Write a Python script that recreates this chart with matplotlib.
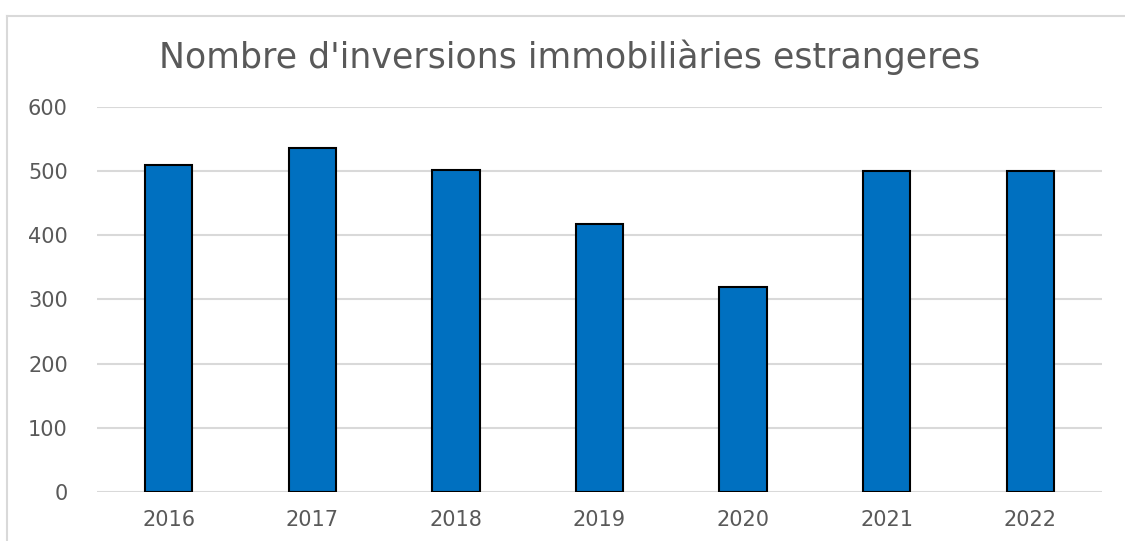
import matplotlib.pyplot as plt
from matplotlib.lines import Line2D

years = ['2016', '2017', '2018', '2019', '2020', '2021', '2022']
inversions = [510, 536, 502, 418, 320, 500, 500]
yticks = [0, 100, 200, 300, 400, 500, 600]

plt.rcParams['font.family'] = ['DejaVu Sans']

fig = plt.figure(figsize=(11.25, 5.41), dpi=100)
ax = fig.add_axes([0.0862, 0.0906, 0.8934, 0.7116])

ax.bar(years, inversions, width=0.33, color='#0070C0', edgecolor='black', linewidth=1.5, zorder=3)

ax.set_ylim(0, 600)
ax.set_xlim(-0.5, len(years) - 0.5)
ax.set_yticks(yticks)
ax.grid(axis='y', color='#D9D9D9', linewidth=1.5, zorder=0)
for s in ax.spines.values():
    s.set_visible(False)
ax.tick_params(axis='both', length=0, labelsize=15, labelcolor='#595959')
ax.tick_params(axis='y', pad=21)
ax.tick_params(axis='x', pad=13)

fig.text(0.506, 0.874, "Nombre d'inversions immobiliàries estrangeres",
         ha='center', va='baseline', fontsize=25, color='#595959')

# marc del gràfic (retallat a la dreta i a baix)
fig.add_artist(Line2D([0.0065, 1.0], [1 - 16 / 541, 1 - 16 / 541], color='#D9D9D9', linewidth=1.5))
fig.add_artist(Line2D([0.0065, 0.0065], [0.0, 1 - 16 / 541], color='#D9D9D9', linewidth=1.5))

fig.savefig('out.png', dpi=100)
